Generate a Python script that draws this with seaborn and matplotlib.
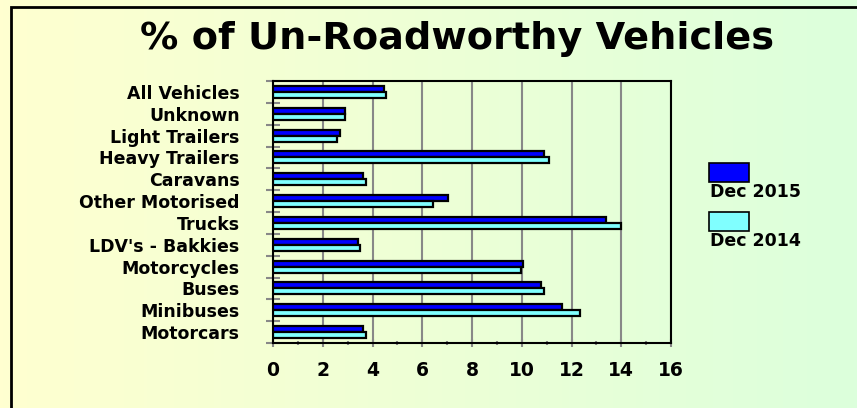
import numpy as np
import pandas as pd
import matplotlib
matplotlib.use("Agg")
import matplotlib.pyplot as plt
from matplotlib.patches import Rectangle
from matplotlib.ticker import MultipleLocator, FixedLocator
import seaborn as sns

# Data (top to bottom as shown in the chart)
categories = ["All Vehicles", "Unknown", "Light Trailers", "Heavy Trailers", "Caravans",
              "Other Motorised", "Trucks", "LDV's - Bakkies", "Motorcycles", "Buses",
              "Minibuses", "Motorcars"]
dec_2015 = [4.45, 2.9, 2.68, 10.9, 3.62, 7.04, 13.39, 3.4, 10.07, 10.79, 11.62, 3.62]
dec_2014 = [4.55, 2.88, 2.57, 11.1, 3.72, 6.43, 13.99, 3.51, 9.96, 10.9, 12.35, 3.72]
series = ["Dec 2015", "Dec 2014"]
colors = ["#0000ff", "#80ffff"]
x_ticks = [0, 2, 4, 6, 8, 10, 12, 14, 16]

df = pd.DataFrame({
    "category": categories * 2,
    "value": dec_2015 + dec_2014,
    "series": [series[0]] * len(categories) + [series[1]] * len(categories),
})

sns.set_style("white")
plt.rcParams["font.family"] = ["DejaVu Sans"]
plt.rcParams["text.color"] = "black"
plt.rcParams["xtick.labelcolor"] = "black"
plt.rcParams["ytick.labelcolor"] = "black"

W, H = 857, 408
fig = plt.figure(figsize=(W / 100, H / 100), dpi=100)

# gradient background
bg = fig.add_axes([0, 0, 1, 1], zorder=-10)
grad = np.linspace(0, 1, 256).reshape(1, -1)
cmap = matplotlib.colors.LinearSegmentedColormap.from_list("bg", ["#ffffd0", "#dcffdc"])
bg.imshow(grad, aspect="auto", cmap=cmap, extent=[0, 1, 0, 1])
bg.set_axis_off()
# frame (left and top only visible)
fig.patches.append(Rectangle((11 / W, -0.1), 1.2, 1 - 7 / H + 0.1, transform=fig.transFigure,
                             fill=False, edgecolor="black", linewidth=2, zorder=5))

ax = fig.add_axes([273 / W, 1 - 343 / H, (671 - 273) / W, (343 - 81) / H])
ax.patch.set_alpha(0)
sns.barplot(data=df, y="category", x="value", hue="series", hue_order=series,
            palette=colors, saturation=1, order=categories, orient="h", width=0.55,
            edgecolor="black", linewidth=1.6, ax=ax, legend=False, zorder=3)

ax.set_xlim(0, 16)
ax.set_ylim(len(categories) - 0.5, -0.5)
ax.xaxis.set_major_locator(FixedLocator(x_ticks))
ax.xaxis.set_minor_locator(MultipleLocator(1))
ax.yaxis.set_minor_locator(FixedLocator(np.arange(-0.5, len(categories), 1)))
ax.grid(axis="x", color="#888888", linewidth=1.5, zorder=0)
ax.set_axisbelow(True)
for s in ax.spines.values():
    s.set_visible(True)
    s.set_color("black")
    s.set_linewidth(1.5)

ax.tick_params(axis="y", which="major", length=0, pad=24)
ax.tick_params(axis="y", which="minor", length=10, width=1.5, color="#888888", direction="inout", left=True)
ax.tick_params(axis="x", which="major", length=6, width=1.5, color="#888888", direction="inout",
               pad=10, bottom=True)
ax.tick_params(axis="x", which="minor", length=3, width=1.5, color="#888888", direction="inout", bottom=True)
ax.set_xticklabels([str(t) for t in x_ticks], fontsize=13.5, fontweight="bold", color="black")
for lbl in ax.get_yticklabels():
    lbl.set_fontsize(12.5)
    lbl.set_fontweight("bold")
    lbl.set_color("black")
ax.set_xlabel("")
ax.set_ylabel("")

fig.text(0.533, 1 - 39 / H, "% of Un-Roadworthy Vehicles", ha="center", va="center",
         fontsize=27.5, fontweight="bold", color="black")

# legend: patch with label underneath
for i, (name, col) in enumerate(zip(series, colors)):
    y0 = 163 + i * 49
    fig.patches.append(Rectangle((709 / W, 1 - (y0 + 19) / H), 40 / W, 19 / H,
                                 transform=fig.transFigure, facecolor=col,
                                 edgecolor="black", linewidth=1.2, zorder=6))
    fig.text(710 / W, 1 - (y0 + 29) / H, name, ha="left", va="center",
             fontsize=12.5, fontweight="bold", color="black")

fig.savefig("out.png", dpi=100)
